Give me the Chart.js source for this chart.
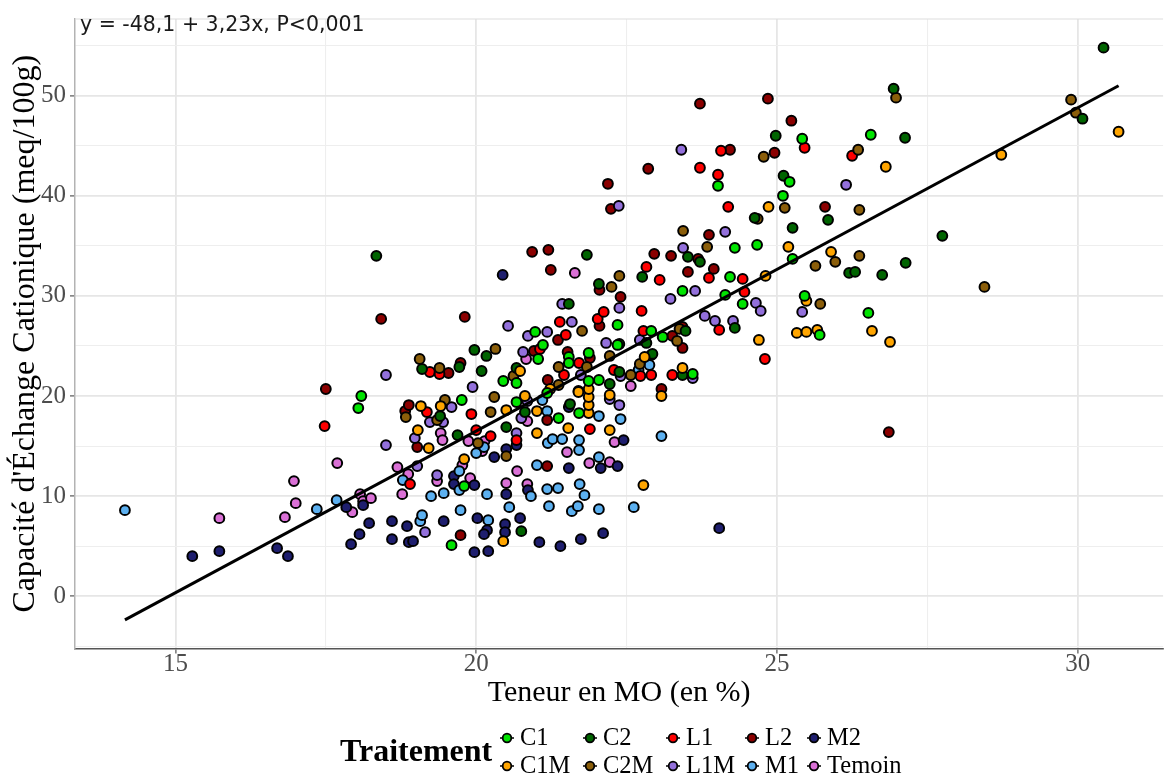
<!DOCTYPE html>
<html>
<head>
<meta charset="utf-8">
<title>CEC vs MO</title>
<script src="https://cdn.jsdelivr.net/npm/chart.js@4.4.1/dist/chart.umd.min.js"></script>
<style>
  html, body { margin: 0; padding: 0; background: #ffffff; }
  canvas { display: block; }
</style>
</head>
<body>
<canvas id="cec" width="1170" height="776"></canvas>
<script>
// Treatments, in legend order (alphabetical, filled column by column)
const treatments = ['C1', 'C1M', 'C2', 'C2M', 'L1', 'L1M', 'L2', 'M1', 'M2', 'Temoin'];

// [MO %, CEC meq/100g] per treatment
const c1Points = [[18.09,20.0],[18.04,18.8],[19.59,5.1],[19.8,11.0],[19.76,19.6],[20.45,21.5],[20.67,21.3],[20.67,19.4],[21.03,23.7],[21.37,17.8],[21.18,20.3],[21.54,23.9],[21.54,23.3],[20.98,26.4],[21.11,25.1],[21.71,18.3],[21.87,21.5],[22.04,21.6],[21.87,24.3],[22.35,25.1],[22.35,27.1],[22.91,26.5],[23.1,25.9],[23.6,22.2],[23.43,30.5],[24.14,30.1],[24.22,31.9],[24.43,29.2],[24.3,34.8],[24.67,35.1],[24.02,41.0],[25.1,40.0],[25.21,41.4],[25.42,45.7],[26.56,46.1],[25.26,33.7],[25.46,30.0],[25.71,26.1],[26.52,28.3]];
const c2Points = [[18.34,34.0],[19.1,22.7],[19.4,18.0],[19.69,16.1],[19.72,22.9],[19.97,24.6],[20.09,22.5],[20.17,24.0],[20.5,16.9],[20.67,22.8],[20.75,6.5],[20.81,18.4],[21.54,29.2],[21.56,19.2],[21.84,34.1],[22.04,31.2],[22.22,21.2],[22.38,22.4],[22.38,25.2],[22.76,31.9],[22.83,25.3],[22.93,24.2],[23.43,22.1],[23.48,26.5],[23.52,33.9],[23.72,33.4],[24.3,26.8],[24.63,37.8],[24.98,46.0],[25.11,42.0],[25.26,36.8],[25.85,37.6],[26.2,32.3],[26.3,32.4],[26.75,32.1],[27.14,33.3],[27.75,36.0],[26.94,50.7],[27.13,45.8],[30.08,47.7],[30.43,54.8]];
const l1Points = [[17.48,17.0],[18.9,11.2],[19.18,18.4],[19.23,22.4],[19.39,22.2],[19.92,18.2],[20.0,16.6],[20.24,16.0],[20.67,15.6],[21.06,24.7],[21.39,27.4],[21.46,22.1],[21.49,26.1],[21.71,23.3],[21.89,16.7],[22.02,27.7],[22.12,28.4],[22.29,22.6],[22.73,22.0],[22.75,28.5],[22.78,26.5],[22.83,32.9],[22.91,22.1],[22.91,24.1],[23.05,31.6],[23.26,22.1],[23.72,42.8],[23.87,31.8],[24.02,42.1],[24.04,26.6],[24.07,44.5],[24.19,38.9],[24.43,31.7],[24.46,30.4],[24.8,23.7],[25.46,44.8],[26.25,44.0]];
const l2Points = [[17.5,20.7],[18.42,27.7],[18.82,18.5],[18.88,19.1],[19.02,14.9],[19.54,22.3],[19.74,23.3],[19.74,6.1],[19.81,27.9],[20.96,24.5],[21.18,17.6],[21.18,13.0],[21.19,21.6],[21.52,24.4],[20.93,34.4],[21.2,34.6],[21.24,32.6],[22.05,30.6],[22.4,29.9],[22.05,27.0],[21.36,25.6],[21.89,23.8],[22.24,38.7],[22.19,41.2],[22.86,42.7],[23.72,49.2],[22.96,34.2],[23.24,34.0],[23.69,33.7],[23.52,32.4],[23.95,32.7],[23.87,36.1],[23.26,26.0],[23.43,24.8],[23.43,26.9],[23.08,20.7],[24.22,44.6],[24.85,49.7],[25.24,47.5],[24.96,44.3],[25.8,38.9],[26.86,16.4]];
const m2Points = [[15.28,4.0],[15.73,4.5],[16.69,4.8],[16.87,4.0],[17.84,8.9],[18.12,9.1],[18.22,7.3],[18.06,6.2],[17.92,5.2],[18.6,7.5],[18.6,5.7],[18.85,7.0],[18.88,5.4],[18.95,5.5],[19.46,7.5],[19.97,4.4],[19.63,12.0],[19.63,11.2],[19.97,11.1],[20.3,13.9],[20.5,14.7],[20.67,15.1],[20.44,32.1],[20.5,10.2],[20.86,10.6],[20.73,7.8],[20.48,7.2],[20.48,6.4],[20.2,4.5],[20.02,7.8],[20.18,6.6],[20.13,6.2],[21.05,5.4],[21.4,5.0],[21.54,12.8],[21.54,18.9],[21.74,5.7],[22.11,6.3],[22.07,12.8],[22.35,13.0],[22.45,15.6],[24.04,6.8]];
const c1mPoints = [[19.8,13.7],[19.21,14.8],[19.03,16.6],[19.08,19.0],[19.41,19.0],[20.45,5.5],[20.73,22.5],[20.5,18.6],[20.81,20.0],[21.01,18.5],[21.01,16.3],[21.23,20.7],[21.53,16.8],[21.7,20.4],[21.87,18.3],[21.87,19.1],[21.87,19.9],[21.87,20.7],[22.22,16.6],[22.22,20.1],[22.78,11.1],[22.8,23.9],[23.08,20.0],[23.43,22.8],[24.7,25.6],[24.81,32.0],[24.86,38.9],[25.19,34.9],[25.9,34.4],[25.49,29.5],[25.33,26.3],[25.49,26.4],[25.67,26.6],[26.58,26.5],[26.88,25.4],[26.81,42.9],[28.73,44.1],[30.68,46.4]];
const c2mPoints = [[18.83,17.9],[19.35,17.6],[19.48,19.6],[19.06,23.7],[19.39,22.8],[20.03,15.3],[20.24,18.4],[20.3,19.9],[20.32,24.7],[20.5,14.0],[20.62,22.0],[21.37,22.9],[21.37,21.1],[21.7,20.5],[21.76,26.5],[21.84,22.9],[22.22,24.0],[22.25,30.9],[22.38,32.0],[22.57,22.1],[22.72,23.2],[23.34,25.5],[23.38,26.7],[23.44,36.5],[23.84,34.9],[24.68,37.7],[24.78,43.9],[25.13,38.8],[25.64,33.0],[25.72,29.2],[25.97,33.4],[26.35,44.6],[26.37,38.6],[26.37,34.0],[26.98,49.8],[28.45,30.9],[29.89,49.6],[29.97,48.3]];
const l1mPoints = [[18.5,22.1],[18.5,15.1],[19.15,6.4],[19.35,12.1],[19.02,13.0],[18.98,15.8],[19.23,17.4],[19.45,17.4],[19.59,18.9],[19.94,20.9],[20.53,27.0],[20.67,16.3],[20.75,17.8],[20.85,19.5],[20.78,24.4],[20.86,26.0],[21.18,26.4],[21.43,29.2],[21.59,27.4],[21.74,22.1],[22.16,25.3],[22.22,19.7],[22.38,19.1],[22.38,28.8],[22.37,39.0],[22.4,22.0],[22.72,25.6],[23.23,29.7],[23.41,44.6],[23.44,34.8],[23.6,21.8],[23.64,30.5],[23.8,28.0],[23.97,27.5],[24.14,36.4],[24.27,27.5],[24.65,29.3],[24.73,28.5],[25.42,28.4],[26.15,41.1]];
const m1Points = [[14.16,8.6],[17.35,8.7],[17.68,9.6],[18.78,11.6],[19.07,7.5],[19.1,8.1],[19.25,10.0],[19.46,10.3],[19.72,10.6],[19.72,12.5],[19.74,8.6],[20.0,14.3],[20.13,14.9],[20.18,10.2],[20.2,7.6],[20.55,8.9],[20.91,10.0],[21.01,13.1],[21.1,19.6],[21.18,18.5],[21.18,10.7],[21.19,15.3],[21.21,9.0],[21.27,15.7],[21.36,10.8],[21.43,15.7],[21.59,8.5],[21.69,9.0],[21.71,15.6],[21.71,14.6],[21.72,11.2],[21.8,10.1],[22.04,18.0],[22.04,13.9],[22.04,8.7],[22.4,17.7],[22.62,8.9],[22.7,22.6],[22.88,23.1],[23.08,16.0]];
const temoinPoints = [[15.73,7.8],[16.82,7.9],[17.0,9.3],[16.97,11.5],[17.69,13.3],[17.94,8.4],[18.07,10.2],[18.12,9.5],[18.25,9.8],[18.69,12.9],[18.77,10.2],[18.87,12.2],[19.35,11.5],[19.41,16.3],[19.44,15.6],[19.77,13.1],[19.87,15.5],[19.9,11.8],[20.1,14.5],[20.14,15.5],[20.5,11.3],[20.68,12.5],[20.83,23.7],[20.85,17.5],[20.85,11.2],[21.51,14.4],[21.64,32.3],[21.88,13.3],[22.22,13.4],[22.3,15.4],[22.57,21.0]];

// Linear fit reported on the panel
const fitIntercept = -48.1;
const fitSlope = 3.23;
const fitXRange = [14.16, 30.68];
const fitPValueLabel = 'P<0,001';

// Axis breaks (major ones carry a label)
const xTickValues = [15, 17.5, 20, 22.5, 25, 27.5, 30];
const yTickValues = [-5, 0, 5, 10, 15, 20, 25, 30, 35, 40, 45, 50, 55];
const xLabelStep = 5;
const yLabelStep = 10;

const seriesByTreatment = {
  'C1': c1Points, 'C1M': c1mPoints, 'C2': c2Points, 'C2M': c2mPoints,
  'L1': l1Points, 'L1M': l1mPoints, 'L2': l2Points, 'M1': m1Points,
  'M2': m2Points, 'Temoin': temoinPoints
};
const fillColors = {
  'C1': '#00E400', 'C1M': '#FFA500', 'C2': '#006400', 'C2M': '#8B5E0A',
  'L1': '#FF0000', 'L1M': '#9370DB', 'L2': '#8B0000', 'M1': '#5CB0F0',
  'M2': '#1E1E6E', 'Temoin': '#DA70D6'
};

const serif = '"Liberation Serif", "Times New Roman", serif';
const decimalComma = v => String(v).replace('.', ',');
const equationText = 'y = ' + decimalComma(fitIntercept) + ' + ' + decimalComma(fitSlope) + 'x, ' + fitPValueLabel;

const pointDatasets = treatments.map(t => ({
  type: 'scatter',
  label: t,
  data: seriesByTreatment[t].map(([x, y]) => ({ x, y })),
  backgroundColor: fillColors[t],
  borderColor: '#000000',
  borderWidth: 2,
  pointRadius: 4.9,
  order: 2
}));

const fitDataset = {
  type: 'line',
  label: 'fit',
  data: fitXRange.map(x => ({ x, y: fitIntercept + fitSlope * x })),
  borderColor: '#000000',
  borderWidth: 3,
  pointRadius: 0,
  showLine: true,
  fill: false,
  order: 1
};

const isMajor = (v, step) => Math.abs(v / step - Math.round(v / step)) < 1e-9;

// Panel top edge, equation and the treatment legend
const panelExtras = {
  id: 'panelExtras',
  afterDraw(chart) {
    const { ctx, chartArea } = chart;
    ctx.save();
    ctx.strokeStyle = '#dedede';
    ctx.lineWidth = 1.2;
    ctx.beginPath();
    ctx.moveTo(chartArea.left, chartArea.top);
    ctx.lineTo(chartArea.right, chartArea.top);
    ctx.stroke();

    ctx.fillStyle = '#1a1a1a';
    ctx.font = '20.5px "DejaVu Sans", Verdana, sans-serif';
    ctx.textAlign = 'left';
    ctx.textBaseline = 'alphabetic';
    ctx.fillText(equationText, chartArea.left + 5, 30.5);

    // legend
    ctx.fillStyle = '#000000';
    ctx.font = 'bold 32px ' + serif;
    ctx.textBaseline = 'middle';
    ctx.fillText('Traitement', 340, 753);

    const colX = [507, 590, 673, 752, 814];
    const rowY = [738, 766];
    ctx.font = '24.5px ' + serif;
    treatments.forEach((t, i) => {
      const cx = colX[Math.floor(i / 2)];
      const cy = rowY[i % 2];
      ctx.strokeStyle = '#000000';
      ctx.lineWidth = 1.5;
      ctx.beginPath();
      ctx.moveTo(cx - 7, cy);
      ctx.lineTo(cx + 7, cy);
      ctx.stroke();
      ctx.beginPath();
      ctx.arc(cx, cy, 4.3, 0, Math.PI * 2);
      ctx.fillStyle = fillColors[t];
      ctx.fill();
      ctx.lineWidth = 1.8;
      ctx.stroke();
      ctx.fillStyle = '#000000';
      ctx.fillText(t, cx + 13, cy + 1);
    });
    ctx.restore();
  }
};

new Chart(document.getElementById('cec'), {
  type: 'scatter',
  data: { datasets: [fitDataset, ...pointDatasets] },
  plugins: [panelExtras],
  options: {
    responsive: false,
    animation: false,
    events: [],
    layout: { padding: { left: 0, right: 0, top: 11.5, bottom: 62.5 } },
    plugins: { legend: { display: false }, tooltip: { enabled: false }, title: { display: false } },
    scales: {
      x: {
        type: 'linear',
        position: 'bottom',
        min: 13.33,
        max: 31.42,
        bounds: 'data',
        afterBuildTicks: s => { s.ticks = xTickValues.map(v => ({ value: v })); },
        afterFit: s => { s.height = 65; },
        ticks: {
          autoSkip: false,
          maxRotation: 0,
          padding: -4,
          color: '#4d4d4d',
          font: { family: serif, size: 25 },
          callback: v => (isMajor(v, xLabelStep) ? String(v) : '')
        },
        grid: {
          drawTicks: true,
          tickLength: 5,
          color: c => (c.tick && isMajor(c.tick.value, xLabelStep) ? '#e6e6e6' : '#eeeeee'),
          lineWidth: c => (c.tick && isMajor(c.tick.value, xLabelStep) ? 1.8 : 1.1),
          tickColor: c => (c.tick && isMajor(c.tick.value, xLabelStep) ? '#555555' : 'rgba(0,0,0,0)'),
          tickWidth: 1.2
        },
        border: { display: true, color: '#555555', width: 1.4 },
        title: {
          display: true,
          text: 'Teneur en MO (en %)',
          color: '#000000',
          font: { family: serif, size: 30 },
          padding: { top: 0, bottom: 2 }
        }
      },
      y: {
        type: 'linear',
        position: 'left',
        min: -5.22,
        max: 57.66,
        bounds: 'data',
        afterBuildTicks: s => { s.ticks = yTickValues.map(v => ({ value: v })); },
        afterFit: s => { s.width = 75; },
        ticks: {
          autoSkip: false,
          padding: 4,
          color: '#4d4d4d',
          font: { family: serif, size: 25 },
          callback: v => (isMajor(v, yLabelStep) ? String(v) : '')
        },
        grid: {
          drawTicks: true,
          tickLength: 5,
          color: c => (c.tick && isMajor(c.tick.value, yLabelStep) ? '#e6e6e6' : '#eeeeee'),
          lineWidth: c => (c.tick && isMajor(c.tick.value, yLabelStep) ? 1.8 : 1.1),
          tickColor: c => (c.tick && isMajor(c.tick.value, yLabelStep) ? '#555555' : 'rgba(0,0,0,0)'),
          tickWidth: 1.2
        },
        border: { display: true, color: '#b3b3b3', width: 1.5 },
        title: {
          display: true,
          text: "Capacité d'Échange Cationique (meq/100g)",
          color: '#000000',
          font: { family: serif, size: 32 },
          padding: { top: 6, bottom: 0 }
        }
      }
    }
  }
});
</script>
</body>
</html>
